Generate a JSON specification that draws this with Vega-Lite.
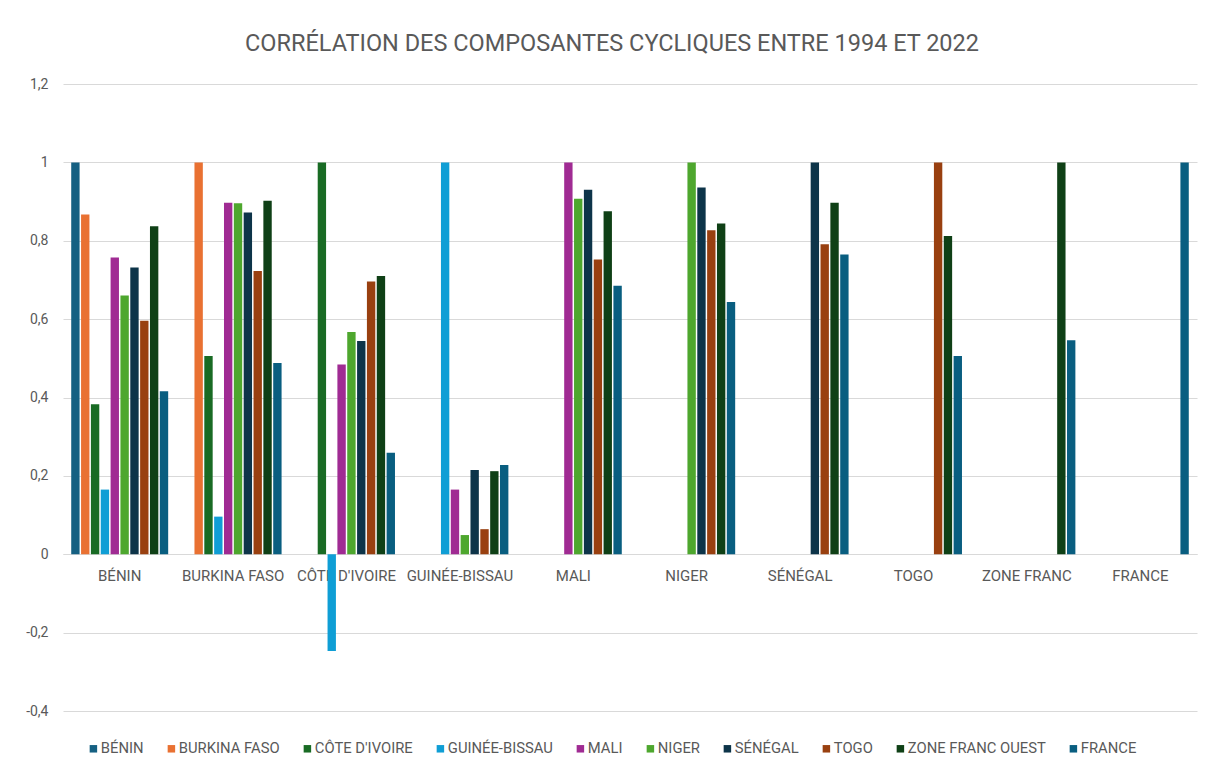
{
  "$schema": "https://vega.github.io/schema/vega-lite/v6.json",
  "width": 1134,
  "height": 627,
  "autosize": "none",
  "padding": {"left": 63, "top": 84, "right": 9, "bottom": 58},
  "background": "white",
  "config": {"font": "Roboto", "view": {"stroke": null}},
  "title": {
    "text": "CORRÉLATION DES COMPOSANTES CYCLIQUES ENTRE 1994 ET 2022",
    "fontSize": 23.5,
    "fontWeight": "normal",
    "color": "#595959",
    "anchor": "middle",
    "baseline": "bottom",
    "offset": -2,
    "dx": -18
  },
  "data": {
    "values": [
      {"cat": "BÉNIN", "serie": "BÉNIN", "value": 1},
      {"cat": "BÉNIN", "serie": "BURKINA FASO", "value": 0.867},
      {"cat": "BÉNIN", "serie": "CÔTE D'IVOIRE", "value": 0.383},
      {"cat": "BÉNIN", "serie": "GUINÉE-BISSAU", "value": 0.165},
      {"cat": "BÉNIN", "serie": "MALI", "value": 0.757},
      {"cat": "BÉNIN", "serie": "NIGER", "value": 0.66},
      {"cat": "BÉNIN", "serie": "SÉNÉGAL", "value": 0.732},
      {"cat": "BÉNIN", "serie": "TOGO", "value": 0.596},
      {"cat": "BÉNIN", "serie": "ZONE FRANC OUEST", "value": 0.837},
      {"cat": "BÉNIN", "serie": "FRANCE", "value": 0.416},
      {"cat": "BURKINA FASO", "serie": "BURKINA FASO", "value": 1},
      {"cat": "BURKINA FASO", "serie": "CÔTE D'IVOIRE", "value": 0.506},
      {"cat": "BURKINA FASO", "serie": "GUINÉE-BISSAU", "value": 0.096},
      {"cat": "BURKINA FASO", "serie": "MALI", "value": 0.897},
      {"cat": "BURKINA FASO", "serie": "NIGER", "value": 0.896},
      {"cat": "BURKINA FASO", "serie": "SÉNÉGAL", "value": 0.872},
      {"cat": "BURKINA FASO", "serie": "TOGO", "value": 0.723},
      {"cat": "BURKINA FASO", "serie": "ZONE FRANC OUEST", "value": 0.902},
      {"cat": "BURKINA FASO", "serie": "FRANCE", "value": 0.488},
      {"cat": "CÔTE D'IVOIRE", "serie": "CÔTE D'IVOIRE", "value": 1},
      {"cat": "CÔTE D'IVOIRE", "serie": "GUINÉE-BISSAU", "value": -0.247},
      {"cat": "CÔTE D'IVOIRE", "serie": "MALI", "value": 0.484},
      {"cat": "CÔTE D'IVOIRE", "serie": "NIGER", "value": 0.567},
      {"cat": "CÔTE D'IVOIRE", "serie": "SÉNÉGAL", "value": 0.544},
      {"cat": "CÔTE D'IVOIRE", "serie": "TOGO", "value": 0.696},
      {"cat": "CÔTE D'IVOIRE", "serie": "ZONE FRANC OUEST", "value": 0.71},
      {"cat": "CÔTE D'IVOIRE", "serie": "FRANCE", "value": 0.259},
      {"cat": "GUINÉE-BISSAU", "serie": "GUINÉE-BISSAU", "value": 1},
      {"cat": "GUINÉE-BISSAU", "serie": "MALI", "value": 0.165},
      {"cat": "GUINÉE-BISSAU", "serie": "NIGER", "value": 0.049},
      {"cat": "GUINÉE-BISSAU", "serie": "SÉNÉGAL", "value": 0.215},
      {"cat": "GUINÉE-BISSAU", "serie": "TOGO", "value": 0.064},
      {"cat": "GUINÉE-BISSAU", "serie": "ZONE FRANC OUEST", "value": 0.212},
      {"cat": "GUINÉE-BISSAU", "serie": "FRANCE", "value": 0.228},
      {"cat": "MALI", "serie": "MALI", "value": 1},
      {"cat": "MALI", "serie": "NIGER", "value": 0.907},
      {"cat": "MALI", "serie": "SÉNÉGAL", "value": 0.93},
      {"cat": "MALI", "serie": "TOGO", "value": 0.752},
      {"cat": "MALI", "serie": "ZONE FRANC OUEST", "value": 0.875},
      {"cat": "MALI", "serie": "FRANCE", "value": 0.685},
      {"cat": "NIGER", "serie": "NIGER", "value": 1},
      {"cat": "NIGER", "serie": "SÉNÉGAL", "value": 0.936},
      {"cat": "NIGER", "serie": "TOGO", "value": 0.827},
      {"cat": "NIGER", "serie": "ZONE FRANC OUEST", "value": 0.844},
      {"cat": "NIGER", "serie": "FRANCE", "value": 0.644},
      {"cat": "SÉNÉGAL", "serie": "SÉNÉGAL", "value": 1},
      {"cat": "SÉNÉGAL", "serie": "TOGO", "value": 0.791},
      {"cat": "SÉNÉGAL", "serie": "ZONE FRANC OUEST", "value": 0.897},
      {"cat": "SÉNÉGAL", "serie": "FRANCE", "value": 0.765},
      {"cat": "TOGO", "serie": "TOGO", "value": 1},
      {"cat": "TOGO", "serie": "ZONE FRANC OUEST", "value": 0.812},
      {"cat": "TOGO", "serie": "FRANCE", "value": 0.506},
      {"cat": "ZONE FRANC", "serie": "ZONE FRANC OUEST", "value": 1},
      {"cat": "ZONE FRANC", "serie": "FRANCE", "value": 0.546},
      {"cat": "FRANCE", "serie": "FRANCE", "value": 1}
    ]
  },
  "mark": {"type": "bar"},
  "encoding": {
    "x": {
      "field": "cat",
      "type": "nominal",
      "sort": ["BÉNIN", "BURKINA FASO", "CÔTE D'IVOIRE", "GUINÉE-BISSAU", "MALI", "NIGER", "SÉNÉGAL", "TOGO", "ZONE FRANC", "FRANCE"],
      "scale": {"paddingInner": 0.145, "paddingOuter": 0.0725},
      "axis": {
        "title": null,
        "labelAngle": 0,
        "offset": -157,
        "domainColor": "#d9d9d9",
        "ticks": false,
        "labelFontSize": 15,
        "labelColor": "#595959",
        "labelPadding": 14,
        "labelOverlap": false,
        "labelLimit": 300
      }
    },
    "xOffset": {
      "field": "serie",
      "type": "nominal",
      "sort": ["BÉNIN", "BURKINA FASO", "CÔTE D'IVOIRE", "GUINÉE-BISSAU", "MALI", "NIGER", "SÉNÉGAL", "TOGO", "ZONE FRANC OUEST", "FRANCE"],
      "scale": {"paddingInner": 0.15}
    },
    "y": {
      "field": "value",
      "type": "quantitative",
      "scale": {"domain": [-0.4, 1.2], "nice": false, "zero": false},
      "axis": {
        "title": null,
        "values": [-0.4, -0.2, 0, 0.2, 0.4, 0.6, 0.8, 1, 1.2],
        "labelExpr": "replace(replace(format(datum.value, '~g'), '.', ','), '\u2212', '-')",
        "domain": false,
        "ticks": false,
        "gridColor": "#d9d9d9",
        "labelFontSize": 14,
        "labelColor": "#595959",
        "labelPadding": 15
      }
    },
    "color": {
      "field": "serie",
      "type": "nominal",
      "scale": {
        "domain": ["BÉNIN", "BURKINA FASO", "CÔTE D'IVOIRE", "GUINÉE-BISSAU", "MALI", "NIGER", "SÉNÉGAL", "TOGO", "ZONE FRANC OUEST", "FRANCE"],
        "range": ["#156082", "#E97132", "#196B24", "#0F9ED5", "#A02B93", "#4EA72E", "#0D3449", "#994010", "#0F4016", "#095E80"]
      },
      "legend": {
        "title": null,
        "orient": "none",
        "legendX": 23,
        "legendY": 657,
        "direction": "horizontal",
        "columns": 10,
        "symbolType": "square",
        "symbolSize": 56,
        "symbolStrokeWidth": 0,
        "labelFontSize": 14.8,
        "labelColor": "#595959",
        "columnPadding": 20,
        "labelOffset": 0
      }
    }
  }
}
